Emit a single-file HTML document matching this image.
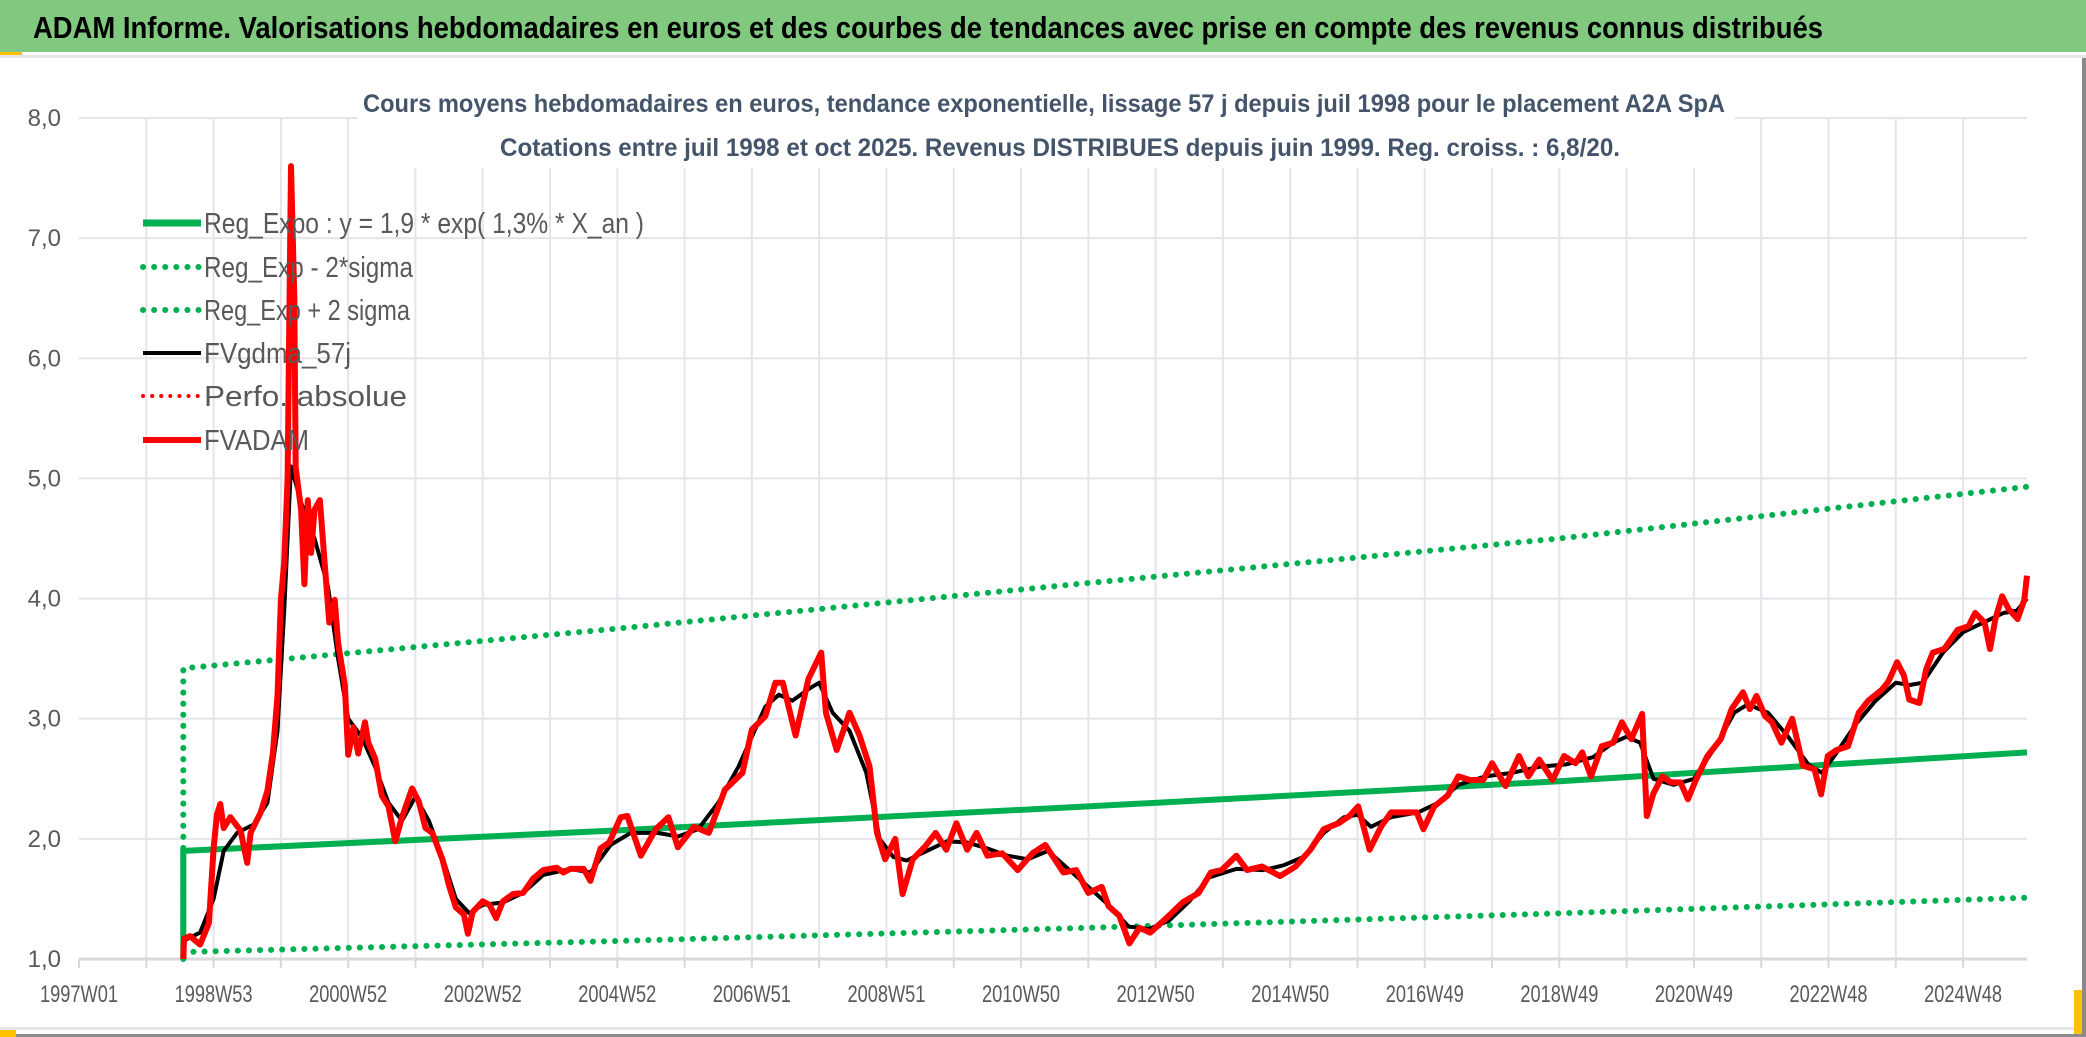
<!DOCTYPE html>
<html><head><meta charset="utf-8"><style>
html,body{margin:0;padding:0;background:#fff;}
svg{display:block;}
</style></head><body>
<svg id="chart" width="2086" height="1037" xmlns="http://www.w3.org/2000/svg" font-family="'Liberation Sans Narrow','Liberation Sans',sans-serif">
<rect x="0" y="0" width="2086" height="1037" fill="#ffffff"/>
<rect x="0" y="0" width="2086" height="52" fill="#80c97f"/>
<rect x="0" y="52" width="22" height="6" fill="#ffc000"/>
<rect x="0" y="55" width="2086" height="3" fill="#e4e6ea"/>
<text x="33" y="38" font-size="31" font-weight="bold" fill="#000" textLength="1790" lengthAdjust="spacingAndGlyphs">ADAM Informe. Valorisations hebdomadaires en euros et des courbes de tendances avec prise en compte des revenus connus distribués</text>
<rect x="0" y="1027" width="2086" height="3" fill="#e4e6ea"/>
<rect x="0" y="1034" width="2086" height="3" fill="#8a8a8a"/>
<rect x="0" y="1030" width="16" height="7" fill="#ffc000"/>
<rect x="2082" y="58" width="4" height="979" fill="#8a8a8a"/>
<rect x="2074" y="990" width="8" height="44" fill="#ffc000"/>
<g id="grid"></g>
<g id="axes"></g>
<rect x="357" y="86" width="1378" height="82" fill="#fff"/>
<text x="363" y="112" font-size="25" font-weight="bold" fill="#44546a" textLength="1362" lengthAdjust="spacingAndGlyphs">Cours moyens hebdomadaires en euros, tendance exponentielle, lissage 57 j depuis juil 1998 pour le placement A2A SpA</text>
<text x="500" y="156" font-size="25" font-weight="bold" fill="#44546a" textLength="1120" lengthAdjust="spacingAndGlyphs">Cotations entre juil 1998 et oct 2025. Revenus DISTRIBUES depuis juin 1999. Reg. croiss. : 6,8/20.</text>
<g id="series"></g>
<g id="legend"></g>
</svg>
<script>
const yTicks = ["1,0","2,0","3,0","4,0","5,0","6,0","7,0","8,0"];
const xTickLabels = ["1997W01","1998W53","2000W52","2002W52","2004W52","2006W51","2008W51","2010W50","2012W50","2014W50","2016W49","2018W49","2020W49","2022W48","2024W48"];
const xTickYears = [1997,1999,2001,2003,2005,2007,2009,2011,2013,2015,2017,2019,2021,2023,2025];
const trendYears = [1998.55,2005,2012,2019,2025.95];
const regValues = [1.9,2.07,2.27,2.48,2.72];
const upperValues = [3.42,3.75,4.13,4.5,4.93];
const lowerValues = [1.06,1.15,1.26,1.38,1.51];
const redYears = [1998.55,1998.56,1998.65,1998.8,1998.93,1999.0,1999.05,1999.1,1999.15,1999.25,1999.4,1999.5,1999.55,1999.7,1999.8,1999.88,1999.95,2000.0,2000.05,2000.1,2000.15,2000.2,2000.22,2000.3,2000.35,2000.4,2000.45,2000.5,2000.58,2000.65,2000.72,2000.8,2000.85,2000.95,2001.0,2001.08,2001.15,2001.25,2001.3,2001.4,2001.5,2001.6,2001.7,2001.8,2001.95,2002.05,2002.15,2002.25,2002.4,2002.5,2002.6,2002.72,2002.78,2002.85,2003.0,2003.1,2003.2,2003.3,2003.45,2003.6,2003.75,2003.9,2004.1,2004.2,2004.3,2004.5,2004.6,2004.75,2004.88,2005.05,2005.15,2005.35,2005.57,2005.76,2005.9,2006.14,2006.36,2006.6,2006.86,2007.0,2007.2,2007.35,2007.46,2007.65,2007.84,2008.03,2008.1,2008.26,2008.45,2008.6,2008.75,2008.86,2008.98,2009.13,2009.24,2009.39,2009.58,2009.73,2009.89,2010.04,2010.2,2010.34,2010.5,2010.72,2010.95,2011.17,2011.36,2011.63,2011.82,2012.0,2012.2,2012.3,2012.46,2012.61,2012.76,2012.92,2013.14,2013.4,2013.64,2013.82,2013.98,2014.2,2014.36,2014.58,2014.85,2015.08,2015.3,2015.5,2015.72,2015.88,2016.01,2016.18,2016.35,2016.5,2016.68,2016.88,2016.98,2017.14,2017.34,2017.5,2017.67,2017.87,2018.0,2018.2,2018.4,2018.54,2018.7,2018.9,2019.07,2019.24,2019.34,2019.47,2019.63,2019.8,2019.93,2020.07,2020.23,2020.3,2020.4,2020.53,2020.66,2020.8,2020.91,2021.03,2021.2,2021.4,2021.56,2021.73,2021.83,2021.93,2022.06,2022.16,2022.3,2022.46,2022.62,2022.79,2022.89,2022.99,2023.12,2023.29,2023.45,2023.59,2023.79,2023.89,2024.02,2024.12,2024.2,2024.35,2024.45,2024.55,2024.72,2024.92,2025.08,2025.18,2025.32,2025.4,2025.48,2025.58,2025.68,2025.81,2025.91,2025.95];
const redValues = [1.0,1.17,1.19,1.12,1.3,1.92,2.2,2.29,2.09,2.18,2.07,1.8,2.05,2.22,2.4,2.71,3.19,3.99,4.3,5.0,7.6,6.5,5.09,4.74,4.12,4.82,4.38,4.74,4.82,4.3,3.8,3.99,3.63,3.28,2.7,2.93,2.71,2.97,2.8,2.67,2.36,2.27,1.98,2.18,2.42,2.31,2.09,2.05,1.83,1.61,1.43,1.37,1.21,1.39,1.48,1.45,1.34,1.48,1.54,1.55,1.67,1.74,1.76,1.72,1.75,1.75,1.65,1.92,1.97,2.18,2.19,1.86,2.08,2.18,1.93,2.1,2.05,2.41,2.55,2.91,3.02,3.3,3.3,2.86,3.33,3.55,3.05,2.74,3.05,2.86,2.6,2.05,1.83,2.0,1.54,1.83,1.94,2.05,1.91,2.13,1.91,2.05,1.86,1.88,1.74,1.88,1.95,1.72,1.74,1.55,1.6,1.44,1.36,1.13,1.26,1.22,1.33,1.47,1.55,1.72,1.74,1.86,1.74,1.77,1.69,1.77,1.91,2.08,2.13,2.19,2.27,1.91,2.1,2.22,2.22,2.22,2.08,2.27,2.36,2.52,2.49,2.49,2.63,2.44,2.69,2.52,2.66,2.49,2.69,2.63,2.72,2.52,2.77,2.8,2.97,2.83,3.04,2.19,2.38,2.52,2.47,2.47,2.33,2.49,2.69,2.83,3.08,3.22,3.08,3.19,3.02,2.97,2.8,3.0,2.61,2.58,2.37,2.69,2.74,2.77,3.05,3.15,3.24,3.31,3.47,3.36,3.16,3.13,3.41,3.55,3.58,3.74,3.77,3.88,3.8,3.58,3.83,4.02,3.91,3.83,3.99,4.19];
const blackYears = [1998.55,1998.8,1999.0,1999.15,1999.35,1999.6,1999.8,1999.95,2000.05,2000.15,2000.3,2000.5,2000.7,2000.85,2001.0,2001.2,2001.4,2001.6,2001.8,2002.0,2002.2,2002.4,2002.6,2002.8,2003.0,2003.3,2003.6,2003.9,2004.3,2004.6,2004.9,2005.2,2005.6,2005.9,2006.2,2006.5,2006.8,2007.0,2007.2,2007.4,2007.6,2007.85,2008.0,2008.2,2008.45,2008.7,2008.9,2009.1,2009.3,2009.6,2009.9,2010.2,2010.5,2010.8,2011.1,2011.4,2011.7,2012.0,2012.3,2012.6,2012.9,2013.2,2013.5,2013.8,2014.2,2014.6,2014.9,2015.2,2015.5,2015.8,2016.0,2016.2,2016.5,2016.9,2017.2,2017.5,2017.9,2018.3,2018.7,2019.1,2019.5,2019.8,2020.0,2020.2,2020.4,2020.7,2021.0,2021.3,2021.6,2021.8,2022.1,2022.4,2022.7,2022.9,2023.1,2023.4,2023.7,2024.0,2024.2,2024.4,2024.7,2025.0,2025.3,2025.6,2025.8,2025.95];
const blackValues = [1.15,1.22,1.5,1.9,2.05,2.12,2.3,2.9,3.9,5.1,4.8,4.5,4.1,3.5,3.0,2.85,2.6,2.3,2.15,2.35,2.15,1.85,1.5,1.38,1.45,1.47,1.55,1.7,1.75,1.72,1.95,2.05,2.05,2.02,2.08,2.3,2.6,2.85,3.1,3.2,3.15,3.25,3.3,3.05,2.9,2.55,2.0,1.85,1.82,1.9,1.98,1.97,1.92,1.86,1.83,1.9,1.75,1.6,1.45,1.27,1.25,1.32,1.48,1.68,1.75,1.74,1.78,1.85,2.05,2.18,2.2,2.1,2.18,2.22,2.3,2.45,2.52,2.55,2.6,2.62,2.68,2.8,2.85,2.8,2.5,2.45,2.5,2.75,3.05,3.12,3.05,2.85,2.62,2.55,2.7,2.95,3.15,3.3,3.28,3.3,3.55,3.72,3.8,3.88,3.9,4.0];

const NS = "http://www.w3.org/2000/svg";
const X0 = 79, X1 = 2027, Y0 = 959, Y1 = 118;
const xMin = 1997, xMax = 2025.95, yMin = 1, yMax = 8;
function xs(t){ return X0 + (t - xMin) / (xMax - xMin) * (X1 - X0); }
function ys(v){ return Y0 - (v - yMin) / (yMax - yMin) * (Y0 - Y1); }
function mk(tag, attrs, parent){ const e = document.createElementNS(NS, tag); for (const k in attrs) e.setAttribute(k, attrs[k]); parent.appendChild(e); return e; }

const grid = document.getElementById('grid');
const axes = document.getElementById('axes');
for (let yr = 1998; yr <= 2025; yr++) {
  const gl = mk('line', {x1: xs(yr), x2: xs(yr), y1: Y1, y2: Y0, stroke: '#e3e5ea', 'stroke-width': 2}, grid);
  
  
}
for (let yr = 1997; yr <= 2025; yr++) {
  const tk = mk('line', {x1: xs(yr), x2: xs(yr), y1: Y0, y2: Y0 + 9, stroke: '#d9d9d9', 'stroke-width': 2}, axes);
  
  
}
yTicks.forEach(function(lbl, i){
  const v = yMin + i;
  const gl = mk('line', {x1: X0, x2: X1, y1: ys(v), y2: ys(v), stroke: i === 0 ? '#d9d9d9' : '#e3e5ea', 'stroke-width': i === 0 ? 3 : 2}, grid);
  
  
  const t = mk('text', {x: 61, y: ys(v) + 8, 'text-anchor': 'end', 'font-size': 24, fill: '#595959'}, axes);
  t.textContent = lbl;
  
  
});
xTickLabels.forEach(function(lbl, i){
  const t = mk('text', {x: xs(xTickYears[i]), y: 1002, 'text-anchor': 'middle', 'font-size': 24, fill: '#595959', textLength: 78, lengthAdjust: 'spacingAndGlyphs'}, axes);
  t.textContent = lbl;
  
  
});

const series = document.getElementById('series');
function pts(years, vals){ return years.map(function(t, i){ return xs(t).toFixed(1) + ',' + ys(vals[i]).toFixed(1); }).join(' '); }
const up = mk('polyline', {points: xs(trendYears[0]) + ',' + ys(1) + ' ' + pts(trendYears, upperValues), fill: 'none', stroke: '#00b050', 'stroke-width': 6, 'stroke-linecap': 'round', 'stroke-dasharray': '0.1 11'}, series);


const lo = mk('polyline', {points: pts(trendYears.map(function(t, i){ return i === 0 ? t + 0.15 : t; }), lowerValues), fill: 'none', stroke: '#00b050', 'stroke-width': 6, 'stroke-linecap': 'round', 'stroke-dasharray': '0.1 11'}, series);


const reg = mk('polyline', {points: xs(trendYears[0]) + ',' + ys(1) + ' ' + pts(trendYears, regValues), fill: 'none', stroke: '#00b050', 'stroke-width': 6}, series);


const blk = mk('polyline', {points: pts(blackYears, blackValues), fill: 'none', stroke: '#000', 'stroke-width': 4, 'stroke-linejoin': 'round'}, series);


const red = mk('polyline', {points: pts(redYears, redValues), fill: 'none', stroke: '#ff0000', 'stroke-width': 6, 'stroke-linejoin': 'round'}, series);



const legend = document.getElementById('legend');
const legendItems = [
  ['Reg_Expo : y = 1,9 * exp( 1,3% *  X_an )', '#00b050', 7, null, 440, 'legend-entry-reg-expo'],
  ['Reg_Exp - 2*sigma', '#00b050', 6, '0.1 11', 209, 'legend-entry-minus-2-sigma'],
  ['Reg_Exp + 2 sigma', '#00b050', 6, '0.1 11', 206, 'legend-entry-plus-2-sigma'],
  ['FVgdma_57j', '#000000', 4, null, 147, 'legend-entry-fvgdma'],
  ['Perfo. absolue', '#ff0000', 4, '0.1 9', 203, 'legend-entry-perfo-absolue'],
  ['FVADAM', '#ff0000', 6, null, 105, 'legend-entry-fvadam']
];
const legendY = [223, 267, 310, 353, 396, 440];
legendItems.forEach(function(it, i){
  const y = legendY[i];
  const g = mk('g', {}, legend);
  
  
  const a = {x1: 143, x2: 201, y1: y, y2: y, stroke: it[1], 'stroke-width': it[2]};
  if (it[3]) { a['stroke-dasharray'] = it[3]; a['stroke-linecap'] = 'round'; }
  mk('line', a, g);
  const t = mk('text', {x: 204, y: y + 10, 'font-size': 29, fill: '#595959', textLength: it[4], lengthAdjust: 'spacingAndGlyphs'}, g);
  t.textContent = it[0];
});
</script>
</body></html>
